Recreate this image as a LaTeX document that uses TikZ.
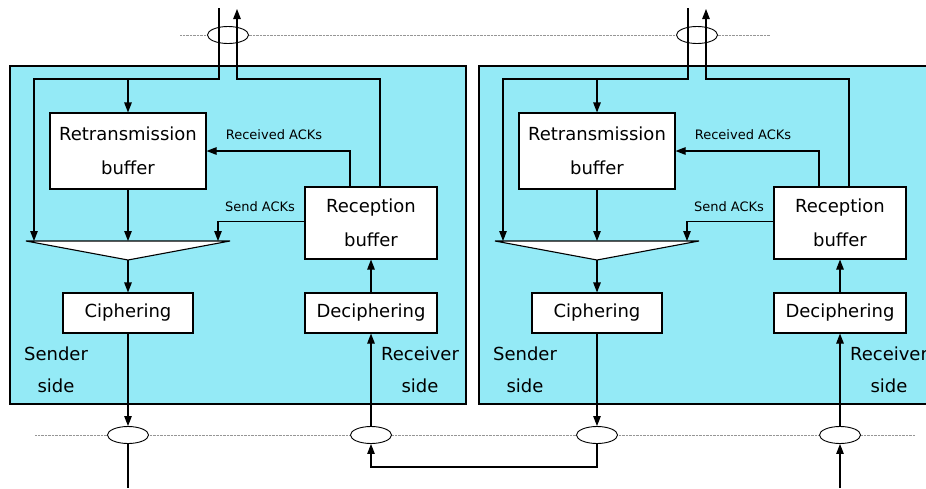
\documentclass[tikz,border=0pt]{standalone}
\usepackage{fontspec}
\setmainfont{DejaVu Sans}
\usetikzlibrary{arrows.meta,shapes.geometric}
\definecolor{panelcyan}{RGB}{148,234,246}
\definecolor{dotgray}{RGB}{150,150,150}
\tikzset{
  buf/.style={draw,fill=white,line width=1.1pt,align=center,inner sep=0pt,font=\fontsize{18}{34}\selectfont},
  tag/.style={font=\fontsize{13}{15}\selectfont,inner sep=0pt},
  side/.style={align=center,font=\fontsize{18}{32}\selectfont,inner sep=0pt},
  link/.style={line width=1.1pt},
  tap/.style={draw,ellipse,fill=white,line width=0.9pt,minimum width=41pt,minimum height=17pt,inner sep=0pt},
  bus/.style={dotgray,line width=0.8pt,dash pattern=on 0.7pt off 0.7pt}
}
\begin{document}
\begin{tikzpicture}[x=1pt,y=-1pt,>={Triangle[length=10pt,width=7.5pt]}]
\useasboundingbox (0,0) rectangle (926,488);
\clip (0,0) rectangle (926,488);
% buses
\draw[bus] (180,35) -- (770,35);
\draw[bus] (35,435) -- (915,435);
% the two stations
\foreach \p/\dx in {L/0,R/469}{
\begin{scope}[xshift=\dx pt]
\draw[line width=1.1pt,fill=panelcyan] (10,66) rectangle (466,404);
\node[buf,minimum width=156pt,minimum height=76pt] (rtx\p) at (128,151) {Retransmission\\buffer};
\node[buf,minimum width=132pt,minimum height=72pt] (rcv\p) at (371,223) {Reception\\buffer};
\node[buf,minimum width=130pt,minimum height=40pt] (cip\p) at (128,313) {Ciphering};
\node[buf,minimum width=132pt,minimum height=40pt] (dec\p) at (371,313) {Deciphering};
\node[side] (sndside\p) at (56,370) {Sender\\side};
\node[side] (rcvside\p) at (420,370) {Receiver\\side};
\node[tag] (ackin\p) at (274,135) {Received ACKs};
\node[tag] (ackout\p) at (260,207) {Send ACKs};
% multiplexer
\draw[fill=white,line width=1.1pt] (26,241) -- (230,241) -- (128,260) -- cycle;
\coordinate (muxA\p) at (34,241);
\coordinate (muxB\p) at (128,241);
\coordinate (muxC\p) at (218,241);
\coordinate (muxO\p) at (128,260);
% taps on the buses
\node[tap] (topE\p) at (228,35) {};
\node[tap] (sndE\p) at (128,435) {};
\node[tap] (rcvE\p) at (371,435) {};
\coordinate (inT\p) at (219,8);
\coordinate (outT\p) at (237,9);
\coordinate (split\p) at (219,79);
\coordinate (join\p) at (237,79);
% links
\draw[link,->] (inT\p) -- (split\p) -| (muxA\p);
\draw[link,->] (rtx\p.north |- split\p) -- (rtx\p.north);
\draw[link,->] ([xshift=9pt]rcv\p.north) |- (join\p) -- (outT\p);
\draw[link,->] ([xshift=-21pt]rcv\p.north) |- (rtx\p.east);
\draw[link,->] ([yshift=1.5pt]rcv\p.west) -| (muxC\p);
\draw[link,->] (rtx\p.south) -- (muxB\p);
\draw[link,->] (muxO\p) -- (cip\p.north);
\draw[link,->] (dec\p.north) -- (rcv\p.south);
\draw[link,->] (cip\p.south) -- (sndE\p.north);
\draw[link,->] (rcvE\p.north) -- (dec\p.south);
\end{scope}
}
% between the stations
\coordinate (botL) at (128,488);
\coordinate (botR) at (840,488);
\coordinate (loopB) at (484,467);
\draw[link] (sndEL.south) -- (botL);
\draw[link,->] (sndER.south) |- (loopB) -| (rcvEL.south);
\draw[link,->] (botR) -- (rcvER.south);
\end{tikzpicture}
\end{document}
